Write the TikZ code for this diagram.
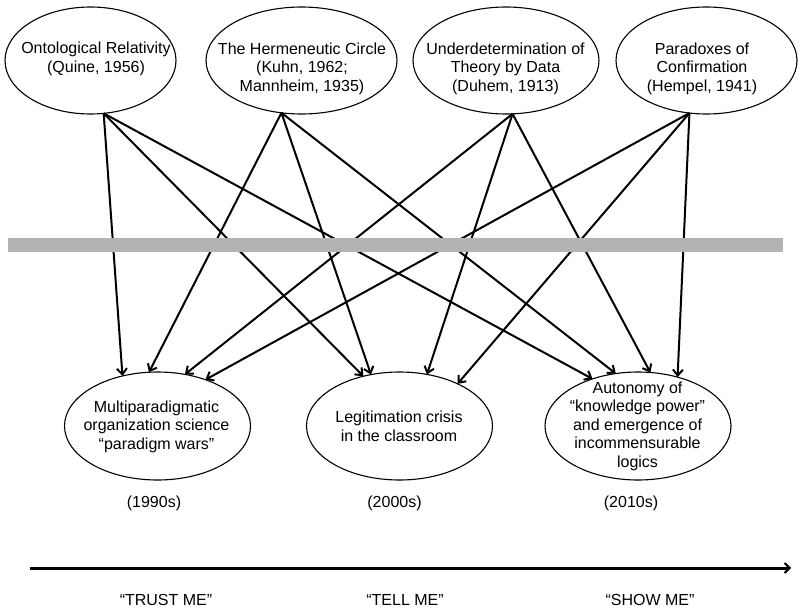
\documentclass[tikz,border=0pt]{standalone}
\usepackage{fontspec}
\setmainfont{Liberation Sans}
\usetikzlibrary{shapes.geometric,arrows.meta}
\definecolor{barGray}{HTML}{B3B3B3}
\begin{document}
\begin{tikzpicture}[x=1pt,y=-1pt,
  idea/.style={ellipse,draw,line width=1.1pt,inner sep=0pt,outer sep=0pt,minimum height=107pt},
  era/.style={ellipse,draw,line width=1.1pt,inner sep=0pt,outer sep=0pt,minimum height=108pt,minimum width=186pt},
  lbl/.style={align=center,font=\fontsize{16}{18.5}\selectfont,inner sep=0pt},
  link/.style={line width=2pt,-{Straight Barb[length=6pt,width=10pt,line width=2pt]}},
]
\useasboundingbox (0,0) rectangle (802,610);

% sources
\node[idea,minimum width=171pt] (e1) at (90.5,60.5) {};
\node[idea,minimum width=191pt] (e2) at (301.5,60.5) {};
\node[idea,minimum width=186pt] (e3) at (506,60.5) {};
\node[idea,minimum width=181pt] (e4) at (706.5,60.5) {};
\node[lbl] (t1) at (96,59) {Ontological Relativity\\(Quine, 1956)};
\node[lbl] (t2) at (302,68.5) {The Hermeneutic Circle\\(Kuhn, 1962;\\Mannheim, 1935)};
\node[lbl] (t3) at (505.5,68.5) {Underdetermination of\\Theory by Data\\(Duhem, 1913)};
\node[lbl] (t4) at (702,68.5) {Paradoxes of\\Confirmation\\(Hempel, 1941)};

% eras
\node[era] (A) at (157.5,426) {};
\node[era] (B) at (399.5,426) {};
\node[era] (C) at (638,426) {};
\node[lbl] (tA) at (156.5,426.5) {Multiparadigmatic\\organization science\\“paradigm wars”};
\node[lbl] (tB) at (399,426.5) {Legitimation crisis\\in the classroom};
\node[lbl] (tC) at (637.5,426) {Autonomy of\\“knowledge power”\\and emergence of\\incommensurable\\logics};

% influences
\draw[link] (e1.-76.9) -- (A.125.5);
\draw[link] (e1.-76.9) -- (B.126);
\draw[link] (e1.-76.9) -- (C.134.4);
\draw[link] (e2.-111.9) -- (A.99.8);
\draw[link] (e2.-111.9) -- (B.119.1);
\draw[link] (e2.-111.9) -- (C.113.5);
\draw[link] (e3.-83.6) -- (A.62.6);
\draw[link] (e3.-83.6) -- (B.62.2);
\draw[link] (e3.-83.6) -- (C.77.5);
\draw[link] (e4.-108.1) -- (A.44.1);
\draw[link] (e4.-108.1) -- (B.36.9);
\draw[link] (e4.-108.1) -- (C.51.7);

% divider
\fill[barGray] (8,238) rectangle (783,252);

% decades
\node[lbl] (d1) at (154,503) {(1990s)};
\node[lbl] (d2) at (394.5,503) {(2000s)};
\node[lbl] (d3) at (631,503) {(2010s)};

% time axis
\coordinate (a0) at (30,568);
\coordinate (a1) at (791,568);
\draw[line width=3pt,-{Straight Barb[length=5pt,width=10pt,line width=2pt]}] (a0) -- (a1);
\node[lbl] (m1) at (166,600) {“TRUST ME”};
\node[lbl] (m2) at (405,600) {“TELL ME”};
\node[lbl] (m3) at (650,600) {“SHOW ME”};
\end{tikzpicture}
\end{document}
